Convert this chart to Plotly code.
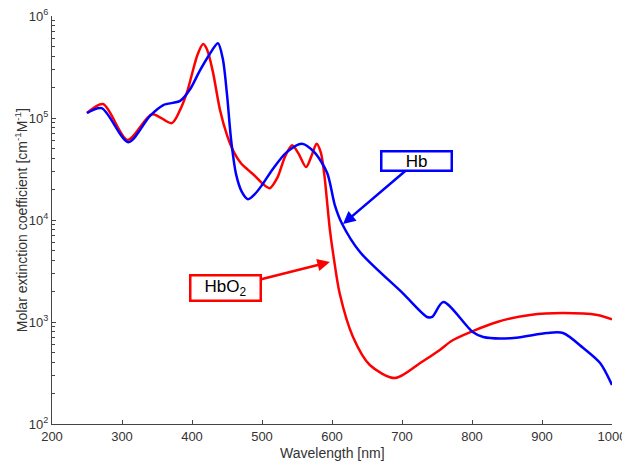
import plotly.graph_objects as go

# Wavelength [nm] and molar extinction coefficient [cm^-1 M^-1]
hbo2_wl = [250, 273, 308, 343, 371, 383, 393, 400, 408, 416, 422, 430, 440, 450, 460, 470, 480,
           490, 500, 511, 522, 533, 543, 552, 563, 571, 578, 584, 589, 593, 597, 602, 611, 630,
           654, 690, 726, 754, 773, 836, 883, 930, 979, 1000]
hbo2_val = [1.12e5, 1.37e5, 6.1e4, 1.09e5, 8.9e4, 1.2e5, 1.8e5, 2.7e5, 4.2e5, 5.3e5, 4.6e5,
            2.8e5, 1.2e5, 6.8e4, 4.6e4, 3.6e4, 3.1e4, 2.7e4, 2.3e4, 2.05e4, 2.6e4, 4.2e4, 5.4e4,
            4.5e4, 3.3e4, 4.3e4, 5.6e4, 4.6e4, 2.8e4, 1.5e4, 8.0e3, 4.5e3, 1900, 713, 379, 282,
            396, 531, 666, 1000, 1172, 1225, 1172, 1060]

hb_wl = [250, 271, 309, 340, 359, 383, 397, 411, 425, 437, 444, 450, 456, 463, 471, 480, 490,
         500, 516, 535, 557, 575, 593, 604, 614, 640, 701, 736, 743, 759, 801, 816, 859, 907,
         930, 959, 983, 1000]
hb_val = [1.12e5, 1.25e5, 5.8e4, 1.05e5, 1.34e5, 1.47e5, 1.9e5, 2.9e5, 4.2e5, 5.4e5, 3.8e5,
          1.7e5, 6.0e4, 2.8e4, 1.9e4, 1.6e4, 1.8e4, 2.2e4, 3.2e4, 4.6e4, 5.6e4, 4.6e4, 2.9e4,
          1.4e4, 9.3e3, 4.85e3, 1920, 1120, 1120, 1570, 798, 713, 697, 780, 780, 556, 396, 241]

x_ticks = [200, 300, 400, 500, 600, 700, 800, 900, 1000]
y_major = [1e2, 1e3, 1e4, 1e5, 1e6]
y_major_text = ["10<sup>2</sup>", "10<sup>3</sup>", "10<sup>4</sup>", "10<sup>5</sup>", "10<sup>6</sup>"]
y_minor = [m * 10 ** e for e in range(2, 6) for m in range(2, 10)]

FONT = "Liberation Sans, Arial, sans-serif"

fig = go.Figure()
fig.add_trace(go.Scatter(x=hbo2_wl, y=hbo2_val, mode="lines", name="HbO2",
                         line=dict(color="#ff0000", width=2.5, shape="spline", smoothing=0.8)))
fig.add_trace(go.Scatter(x=hb_wl, y=hb_val, mode="lines", name="Hb",
                         line=dict(color="#0000ff", width=2.5, shape="spline", smoothing=0.8)))

fig.add_annotation(x=615.7, y=3.961, xref="x", yref="y", text="Hb", showarrow=True,
                   ax=74, ay=-63, arrowhead=2, arrowsize=1, arrowwidth=2.5, arrowcolor="#0000ff",
                   bordercolor="#0000ff", borderwidth=2.5, bgcolor="white", width=66, height=15,
                   font=dict(family=FONT, size=17, color="black"))
fig.add_annotation(x=597, y=3.588, xref="x", yref="y", text="HbO<sub>2</sub>", showarrow=True,
                   ax=-104, ay=26, arrowhead=2, arrowsize=1, arrowwidth=2.5, arrowcolor="#ff0000",
                   bordercolor="#ff0000", borderwidth=2.5, bgcolor="white", width=66, height=21,
                   font=dict(family=FONT, size=17, color="black"))

# axis titles
fig.add_annotation(x=-0.055, y=0.5, xref="paper", yref="paper", textangle=-90,
                   text="Molar extinction coefficient [cm<sup>-1</sup>M<sup>-1</sup>]",
                   showarrow=False, xanchor="center", yanchor="middle",
                   font=dict(family=FONT, size=14, color="#333333"))
fig.add_annotation(x=0.5, y=-0.071, xref="paper", yref="paper", text="Wavelength [nm]",
                   showarrow=False, xanchor="center", yanchor="middle",
                   font=dict(family=FONT, size=14, color="#333333"))

fig.update_layout(
    width=622, height=453,
    margin=dict(l=44, r=18, t=8, b=37),
    paper_bgcolor="white", plot_bgcolor="white",
    showlegend=False,
    font=dict(family=FONT, size=13, color="#333333"),
)
fig.update_xaxes(range=[200, 1000], tickvals=x_ticks, ticks="inside", ticklen=4,
                 tickcolor="#444444", automargin=False, ticklabeloverflow="allow",
                 showline=True, linecolor="#444444", linewidth=1, showgrid=False, zeroline=False,
                 tickfont=dict(size=13))
fig.update_yaxes(type="log", range=[2, 6], tickvals=y_major, ticktext=y_major_text,
                 ticks="inside", ticklen=4, tickcolor="#444444", automargin=False,
                 ticklabeloverflow="allow",
                 showline=True, linecolor="#444444", linewidth=1,
                 showgrid=False, zeroline=False,
                 minor=dict(tickvals=y_minor, ticks="inside", ticklen=3, tickcolor="#444444", showgrid=False),
                 tickfont=dict(size=13))

fig.write_html("out.html")
